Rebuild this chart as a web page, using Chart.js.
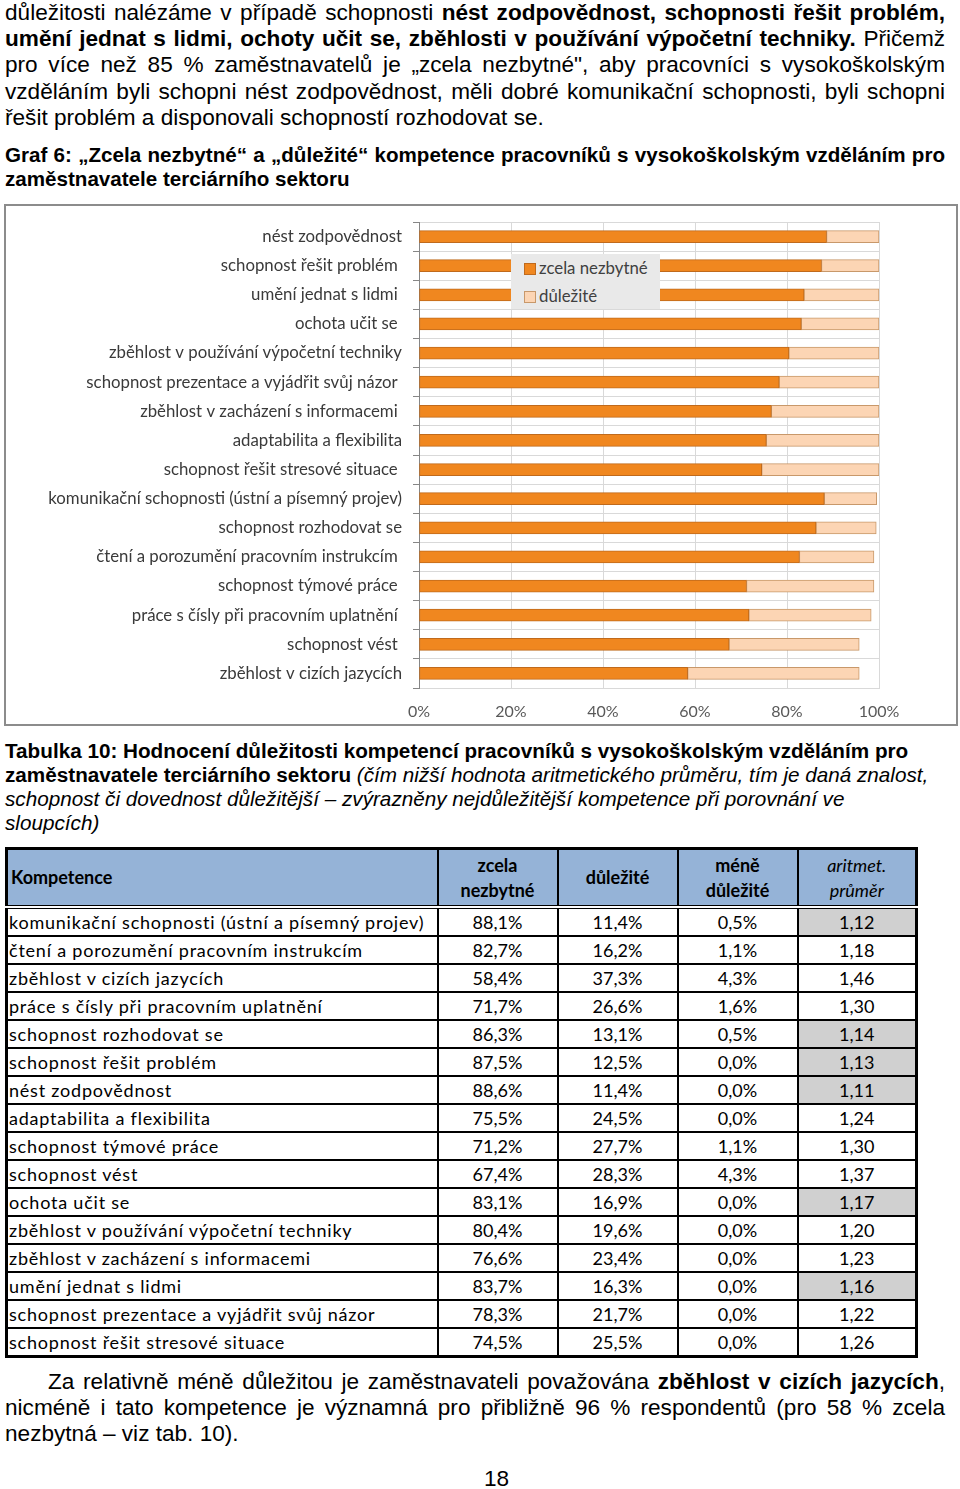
<!DOCTYPE html>
<html><head><meta charset="utf-8">
<script src="https://cdn.jsdelivr.net/npm/chart.js@4.4.1/dist/chart.umd.min.js"></script>
<style>
html,body{margin:0;padding:0;background:#fff;}
body{width:960px;height:1489px;position:relative;overflow:hidden;font-family:"Liberation Sans",Arial,sans-serif;color:#000;}
.blk{position:absolute;left:5px;width:940px;}
.ln{display:block;text-align:justify;text-align-last:justify;white-space:nowrap;}
.ll{display:block;text-align:left;white-space:nowrap;}
.p1{top:0px;font-size:22.6px;line-height:26.2px;}
.cap1{top:143px;font-size:20.6px;line-height:24px;font-weight:bold;}
.cap2{top:739px;font-size:20.7px;line-height:24px;}
.p2{top:1369px;font-size:22.6px;line-height:26px;}
.pg{position:absolute;top:1466px;left:0;width:993px;text-align:center;font-size:22.6px;}
#cbox{position:absolute;left:4px;top:204px;width:954px;height:522px;border:2px solid #8c8c8c;box-sizing:border-box;}
#cbox canvas{position:absolute;left:0;top:0;}
#leg{position:absolute;left:511px;top:254px;width:149px;height:55px;background:#e9e9e9;font-family:Lato,sans-serif;font-size:16.8px;color:#404040;}
#leg div{position:absolute;left:13px;white-space:nowrap;}
#leg span.m{display:inline-block;width:10px;height:10px;border:1px solid;vertical-align:-1px;margin-right:3px;}
#tbl{position:absolute;left:5px;top:847px;border-collapse:collapse;table-layout:fixed;font-family:Lato,sans-serif;font-size:18px;border:3px solid #000;}
#tbl td,#tbl th{border:2px solid #000;padding:0;overflow:hidden;white-space:nowrap;}
#tbl th{background:#95b3d7;height:55px;line-height:25px;font-weight:bold;border-bottom:4px double #000;}
#tbl td{height:26px;line-height:26px;text-align:center;}
#tbl td.n{text-align:left;padding-left:1px;letter-spacing:0.78px;}
#tbl td.g{background:#d0d0d0;}
</style></head>
<body>
<div class="blk p1">
<span class="ln">důležitosti nalézáme v případě schopnosti <b>nést zodpovědnost, schopnosti řešit problém,</b></span>
<span class="ln"><b>umění jednat s lidmi, ochoty učit se, zběhlosti v používání výpočetní techniky.</b> Přičemž</span>
<span class="ln">pro více než 85 % zaměstnavatelů je „zcela nezbytné", aby pracovníci s vysokoškolským</span>
<span class="ln">vzděláním byli schopni nést zodpovědnost, měli dobré komunikační schopnosti, byli schopni</span>
<span class="ll">řešit problém a disponovali schopností rozhodovat se.</span>
</div>
<div class="blk cap1">
<span class="ln">Graf 6: „Zcela nezbytné“ a „důležité“ kompetence pracovníků s vysokoškolským vzděláním pro</span>
<span class="ll">zaměstnavatele terciárního sektoru</span>
</div>
<div id="cbox"><canvas id="c" width="950" height="518"></canvas></div>
<div id="leg">
<div style="top:3px"><span class="m" style="background:#f0871f;border-color:#c06a1c"></span>zcela nezbytné</div>
<div style="top:31px"><span class="m" style="background:#fcd5b4;border-color:#c8986a"></span>důležité</div>
</div>
<div class="blk cap2">
<span class="ll"><b>Tabulka 10: Hodnocení důležitosti kompetencí pracovníků s vysokoškolským vzděláním pro</b></span>
<span class="ll"><b>zaměstnavatele terciárního sektoru</b> <i>(čím nižší hodnota aritmetického průměru, tím je daná znalost,</i></span>
<span class="ll"><i>schopnost či dovednost důležitější – zvýrazněny nejdůležitější kompetence při porovnání ve</i></span>
<span class="ll"><i>sloupcích)</i></span>
</div>
<table id="tbl"><colgroup><col style="width:431px"><col style="width:120px"><col style="width:120px"><col style="width:120px"><col style="width:119px"></colgroup>
<thead id="th"></thead><tbody id="tb"></tbody></table>
<div class="blk p2">
<span class="ln" style="text-indent:43px">Za relativně méně důležitou je zaměstnavateli považována <b>zběhlost v cizích jazycích</b>,</span>
<span class="ln">nicméně i tato kompetence je významná pro přibližně 96 % respondentů (pro 58 % zcela</span>
<span class="ll">nezbytná – viz tab. 10).</span>
</div>
<div class="pg">18</div>
<script>
// ---- Chart data ----
const categories = [
 'nést zodpovědnost','schopnost řešit problém ','umění jednat s lidmi ','ochota učit se ',
 'zběhlost v používání výpočetní techniky','schopnost prezentace a vyjádřit svůj názor ',
 'zběhlost v zacházení s informacemi ','adaptabilita a flexibilita','schopnost řešit stresové situace ',
 'komunikační schopnosti (ústní a písemný projev)','schopnost rozhodovat se','čtení a porozumění pracovním instrukcím ',
 'schopnost týmové práce ','práce s čísly při pracovním uplatnění ','schopnost vést ','zběhlost v cizích jazycích'
];
const zcelaNezbytne = [88.6,87.5,83.7,83.1,80.4,78.3,76.6,75.5,74.5,88.1,86.3,82.7,71.2,71.7,67.4,58.4];
const dulezite      = [11.4,12.5,16.3,16.9,19.6,21.7,23.4,24.5,25.5,11.4,13.1,16.2,27.7,26.6,28.3,37.3];
const xTickLabels = ['0%','20%','40%','60%','80%','100%'];
const seriesNames = ['zcela nezbytné','důležité'];

// ---- Table data ----
const tableHeader = ['Kompetence','zcela<br>nezbytné','důležité','méně<br>důležité','<i style="font-weight:normal">aritmet.<br>průměr</i>'];
const tableNames = ['komunikační schopnosti (ústní a písemný projev)','čtení a porozumění pracovním instrukcím','zběhlost v cizích jazycích','práce s čísly při pracovním uplatnění','schopnost rozhodovat se','schopnost řešit problém','nést zodpovědnost','adaptabilita a flexibilita','schopnost týmové práce','schopnost vést','ochota učit se','zběhlost v používání výpočetní techniky','zběhlost v zacházení s informacemi','umění jednat s lidmi','schopnost prezentace a vyjádřit svůj názor','schopnost řešit stresové situace'];
const tableZcela = ['88,1%','82,7%','58,4%','71,7%','86,3%','87,5%','88,6%','75,5%','71,2%','67,4%','83,1%','80,4%','76,6%','83,7%','78,3%','74,5%'];
const tableDulezite = ['11,4%','16,2%','37,3%','26,6%','13,1%','12,5%','11,4%','24,5%','27,7%','28,3%','16,9%','19,6%','23,4%','16,3%','21,7%','25,5%'];
const tableMene = ['0,5%','1,1%','4,3%','1,6%','0,5%','0,0%','0,0%','0,0%','1,1%','4,3%','0,0%','0,0%','0,0%','0,0%','0,0%','0,0%'];
const tablePrumer = ['1,12','1,18','1,46','1,30','1,14','1,13','1,11','1,24','1,30','1,37','1,17','1,20','1,23','1,16','1,22','1,26'];
const tableHighlight = [1,0,0,0,1,1,1,0,0,0,1,0,0,1,0,0];

const th = document.getElementById('th');
th.innerHTML = '<tr>' + tableHeader.map((h,i)=>'<th style="text-align:'+(i===0?'left;padding-left:3px':'center')+'">'+h+'</th>').join('') + '</tr>';
const tb = document.getElementById('tb');
tb.innerHTML = tableNames.map((n,i)=>'<tr><td class="n">'+n+'</td><td>'+tableZcela[i]+'</td><td>'+tableDulezite[i]+'</td><td>'+tableMene[i]+'</td><td'+(tableHighlight[i]?' class="g"':'')+'>'+tablePrumer[i]+'</td></tr>').join('');

Chart.defaults.font.family = 'Lato, sans-serif';
new Chart(document.getElementById('c'), {
  type:'bar',
  data:{
    labels:categories,
    datasets:[
      {label:seriesNames[0],data:zcelaNezbytne,backgroundColor:'#f0871f',borderColor:'#c06a1c',borderWidth:1,barThickness:12,borderSkipped:false},
      {label:seriesNames[1],data:dulezite,backgroundColor:'#fcd5b4',borderColor:'#c8986a',borderWidth:1,barThickness:12,borderSkipped:false}
    ]
  },
  options:{
    indexAxis:'y',responsive:false,animation:false,devicePixelRatio:1,
    layout:{padding:{top:16,right:77,bottom:0,left:0}},
    plugins:{legend:{display:false},tooltip:{enabled:false}},
    scales:{
      x:{stacked:true,min:0,max:100,
        ticks:{stepSize:20,padding:14,color:'#595959',font:{size:16},callback:(v,i)=>xTickLabels[i]},
        grid:{color:'#d9d9d9',drawTicks:false},
        border:{color:'#d9d9d9'},
        afterFit:(s)=>{s.height=36;s.paddingRight=0;s.paddingLeft=0;}
      },
      y:{stacked:true,
        ticks:{padding:11,color:'#3a3a3a',font:{size:16.8}},
        grid:{color:'#d9d9d9',offset:true,tickLength:6,tickColor:'#868686'},
        border:{color:'#868686'},
        afterFit:(s)=>{s.width=413;s.paddingTop=0;s.paddingBottom=0;}
      }
    }
  }
});
</script>
</body></html>
